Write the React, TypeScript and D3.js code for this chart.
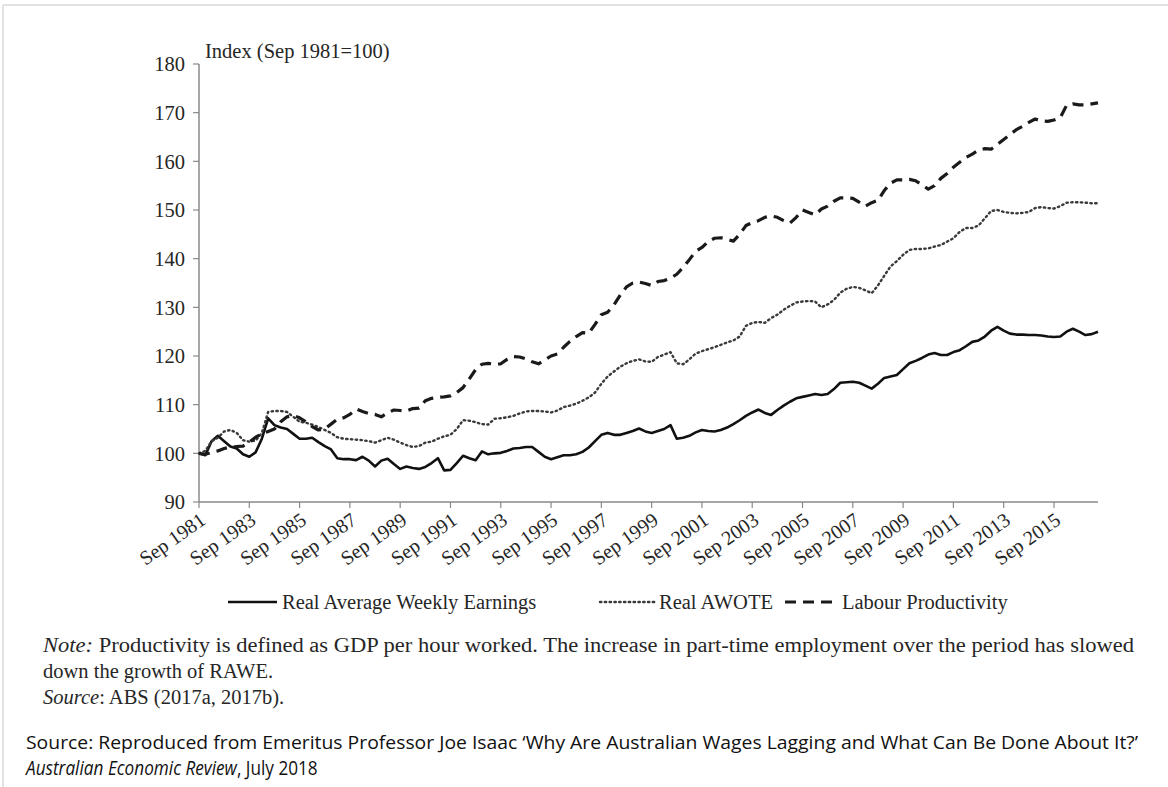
import React from "react";
import * as d3 from "d3";

// Quarterly categories, Sep 1981 .. Jun 2017
const MONTHS = ["Sep", "Dec", "Mar", "Jun"];
const quarters: string[] = d3.range(144).map(
  (i) => `${MONTHS[i % 4]} ${1981 + Math.floor((i + 2) / 4)}`
);

const xTickLabels = [
  "Sep 1981", "Sep 1983", "Sep 1985", "Sep 1987", "Sep 1989", "Sep 1991",
  "Sep 1993", "Sep 1995", "Sep 1997", "Sep 1999", "Sep 2001", "Sep 2003",
  "Sep 2005", "Sep 2007", "Sep 2009", "Sep 2011", "Sep 2013", "Sep 2015",
];
const yTicks = [90, 100, 110, 120, 130, 140, 150, 160, 170, 180];

const realAverageWeeklyEarnings = [
  100, 99.6, 102.5, 103.6,
  102.5, 101.4, 101.0, 99.8,
  99.3, 100.2, 103.0, 107.2,
  105.8, 105.3, 105.0, 104.0,
  103.0, 103.0, 103.2, 102.3,
  101.5, 100.8, 99.0, 98.8,
  98.8, 98.6, 99.3, 98.5,
  97.3, 98.5, 98.9, 97.8,
  96.8, 97.3, 97.0, 96.8,
  97.2, 98.0, 99.0, 96.5,
  96.6, 98.0, 99.5, 99.0,
  98.6, 100.4, 99.8, 100.0,
  100.1, 100.5, 101.0, 101.1,
  101.3, 101.3, 100.3, 99.3,
  98.8, 99.2, 99.6, 99.6,
  99.8, 100.3, 101.2, 102.5,
  103.8, 104.2, 103.8, 103.8,
  104.2, 104.6, 105.1, 104.5,
  104.2, 104.6, 105.0, 105.8,
  103.0, 103.2, 103.6, 104.3,
  104.8, 104.6, 104.5, 104.8,
  105.3, 106.0, 106.8, 107.7,
  108.4, 109.0, 108.3, 107.9,
  108.9, 109.8, 110.6, 111.3,
  111.6, 111.9, 112.2, 112.0,
  112.2, 113.2, 114.5, 114.6,
  114.7, 114.5, 113.9, 113.3,
  114.3, 115.5, 115.8, 116.1,
  117.3, 118.5, 119.0, 119.6,
  120.3, 120.6, 120.2, 120.2,
  120.8, 121.2, 122.0, 122.9,
  123.2, 124.0, 125.2, 126.0,
  125.2, 124.6, 124.4, 124.4,
  124.3, 124.3, 124.2, 124.0,
  123.9, 124.0, 125.0, 125.6,
  125.0, 124.3, 124.5, 125.0,
];

const realAWOTE = [
  100, 100.5, 102.5, 103.2,
  104.5, 104.8, 104.2, 102.7,
  102.4, 102.6, 104.2, 108.5,
  108.7, 108.7, 108.5, 107.5,
  106.5, 106.3, 105.9, 105.4,
  104.8, 104.2, 103.3, 103.0,
  102.9, 102.8, 102.7, 102.5,
  102.2, 102.7, 103.2, 102.8,
  102.2, 101.7, 101.3, 101.5,
  102.2, 102.4, 103.0, 103.5,
  103.8, 105.0, 106.8, 106.7,
  106.4, 106.0, 105.9, 107.1,
  107.2, 107.4, 107.7, 108.2,
  108.6, 108.7, 108.7, 108.6,
  108.4, 108.8, 109.5, 109.8,
  110.2, 110.8, 111.5, 112.5,
  114.3, 115.8, 116.8, 117.8,
  118.5, 119.0, 119.3, 118.9,
  118.8, 119.8, 120.3, 120.8,
  118.5, 118.3, 119.3, 120.5,
  121.0, 121.4, 121.8, 122.3,
  122.8, 123.2, 124.0, 126.2,
  126.8, 127.0, 126.8, 127.8,
  128.5, 129.5, 130.3, 131.0,
  131.2, 131.3, 131.2, 130.0,
  130.6, 131.5, 133.0, 133.8,
  134.2, 134.0, 133.5, 132.9,
  134.5, 136.5, 138.4, 139.5,
  140.8, 141.8, 142.0, 142.0,
  142.1, 142.5, 142.8, 143.5,
  144.2, 145.5, 146.3, 146.3,
  146.8, 148.3, 149.8, 150.0,
  149.6, 149.4, 149.3, 149.4,
  149.6, 150.4, 150.6, 150.4,
  150.3, 150.8, 151.5, 151.6,
  151.6, 151.5, 151.4, 151.4,
];

const labourProductivity = [
  100, 99.8, 100.2, 100.5,
  101.0, 101.3, 101.4, 101.5,
  102.3, 103.3, 104.0, 104.5,
  105.0, 106.5, 107.5, 107.8,
  107.3, 106.5, 105.5, 104.8,
  105.0, 106.0, 107.0, 107.3,
  108.0, 109.1, 108.6, 108.2,
  108.0, 107.5, 108.3, 108.9,
  108.8, 108.7, 109.2, 109.3,
  110.8, 111.3, 111.5, 111.6,
  111.8, 112.5, 113.5, 115.3,
  117.2, 118.3, 118.5, 118.3,
  118.4, 119.3, 119.9, 119.8,
  119.4, 118.8, 118.4, 119.2,
  120.0, 120.4, 121.8, 123.0,
  124.0, 124.8, 124.7, 126.5,
  128.5, 129.0, 130.5, 132.5,
  134.2, 135.0, 135.2, 134.9,
  134.5, 135.3, 135.5, 136.0,
  136.8, 138.2, 139.8, 141.5,
  142.3, 143.5, 144.2, 144.3,
  144.0, 143.6, 145.0, 146.8,
  147.4, 147.8, 148.5, 148.8,
  148.5, 147.8, 147.3, 148.5,
  150.0, 149.5, 149.0, 150.2,
  150.8, 151.8, 152.5, 152.5,
  152.4, 151.6, 150.8, 151.5,
  152.0, 154.0, 155.5, 156.2,
  156.2, 156.3, 156.0, 155.2,
  154.3, 155.0, 156.5, 157.5,
  158.8, 159.8, 160.8, 161.5,
  162.3, 162.6, 162.5, 163.5,
  164.5, 165.5, 166.5, 167.2,
  168.0, 168.7, 168.3, 168.2,
  168.5, 169.0, 171.5, 171.8,
  171.6, 171.6, 171.8, 172.0,
];

const seriesNames = ["Real Average Weekly Earnings", "Real AWOTE", "Labour Productivity"];

const W = 1168;
const H = 787;
const M = { left: 199, right: 1098, top: 64, bottom: 502 };
const SERIF = "'Liberation Serif', 'Times New Roman', serif";
const SANS = "'Open Sans', 'Noto Sans', sans-serif";
const TXT = "#262626";

export default function App() {
  const x = d3.scalePoint<string>().domain(quarters).range([M.left, M.right]);
  const y = d3.scaleLinear().domain([90, 180]).range([M.bottom, M.top]);

  const mk = (vals: number[]) =>
    d3
      .line<number>()
      .x((_, i) => x(quarters[i]) as number)
      .y((v) => y(v))(vals) as string;

  const styles = [
    { stroke: "#111", width: 2.6, dash: undefined as string | undefined, cap: "butt" },
    { stroke: "#3a3a3a", width: 2.4, dash: "1.4,3.4", cap: "round" },
    { stroke: "#1a1a1a", width: 3.2, dash: "11,7", cap: "butt" },
  ];
  const data = [realAverageWeeklyEarnings, realAWOTE, labourProductivity];

  const legendItems = [
    { x1: 228, x2: 277, tx: 282 },
    { x1: 600, x2: 655, tx: 659 },
    { x1: 785, x2: 836, tx: 842 },
  ];

  return (
    <svg
      width={W}
      height={H}
      style={{ position: "absolute", left: 0, top: 0, background: "#fff" }}
    >
      <rect x={0} y={0} width={W} height={H} fill="#fff" />
      <line x1={3} x2={W} y1={5} y2={5} stroke="#e2e2e2" strokeWidth={2} />
      <line x1={3} x2={3} y1={5} y2={H} stroke="#e2e2e2" strokeWidth={2} />

      {/* y axis */}
      <line x1={M.left} x2={M.left} y1={M.top} y2={M.bottom} stroke="#8a8a8a" strokeWidth={1.5} />
      {yTicks.map((t) => (
        <g key={t}>
          <line x1={M.left - 6} x2={M.left} y1={y(t)} y2={y(t)} stroke="#8a8a8a" strokeWidth={1.2} />
          <text
            x={M.left - 14}
            y={y(t)}
            dy="0.35em"
            textAnchor="end"
            fontFamily={SERIF}
            fontSize={20.5}
            fill={TXT}
          >
            {t}
          </text>
        </g>
      ))}
      <text x={205} y={58} fontFamily={SERIF} fontSize={20.5} fill={TXT}>
        Index (Sep 1981=100)
      </text>

      {/* x axis */}
      <line x1={M.left} x2={M.right} y1={M.bottom} y2={M.bottom} stroke="#8a8a8a" strokeWidth={1.5} />
      {xTickLabels.map((lab) => {
        const px = x(lab) as number;
        return (
          <g key={lab}>
            <line x1={px} x2={px} y1={M.bottom} y2={M.bottom + 6} stroke="#8a8a8a" strokeWidth={1.2} />
            <text
              transform={`translate(${px + 8},${M.bottom + 21}) rotate(-35)`}
              textAnchor="end"
              fontFamily={SERIF}
              fontSize={20}
              fill={TXT}
            >
              {lab}
            </text>
          </g>
        );
      })}

      {/* series */}
      {data.map((vals, k) => (
        <path
          key={k}
          d={mk(vals)}
          fill="none"
          stroke={styles[k].stroke}
          strokeWidth={styles[k].width}
          strokeDasharray={styles[k].dash}
          strokeLinecap={styles[k].cap as any}
          strokeLinejoin="round"
        />
      ))}

      {/* legend */}
      {legendItems.map((it, k) => (
        <g key={k}>
          <line
            x1={it.x1}
            x2={it.x2}
            y1={602}
            y2={602}
            stroke={styles[k].stroke}
            strokeWidth={styles[k].width}
            strokeDasharray={styles[k].dash}
            strokeLinecap={styles[k].cap as any}
          />
          <text x={it.tx} y={609} fontFamily={SERIF} fontSize={20.5} fill={TXT}>
            {seriesNames[k]}
          </text>
        </g>
      ))}

      {/* notes */}
      <text x={43} y={652} fontFamily={SERIF} fontSize={20.5} fill={TXT} textLength={1091} lengthAdjust="spacingAndGlyphs">
        <tspan fontStyle="italic">Note:</tspan> Productivity is defined as GDP per hour worked. The increase in part-time employment over the period has slowed
      </text>
      <text x={43} y={678} fontFamily={SERIF} fontSize={20.5} fill={TXT}>
        down the growth of RAWE.
      </text>
      <text x={43} y={704} fontFamily={SERIF} fontSize={20.5} fill={TXT}>
        <tspan fontStyle="italic">Source</tspan>: ABS (2017a, 2017b).
      </text>

      <text x={26} y={749} fontFamily={SANS} fontSize={18} fill="#111" textLength={1112} lengthAdjust="spacingAndGlyphs">
        Source: Reproduced from Emeritus Professor Joe Isaac ‘Why Are Australian Wages Lagging and What Can Be Done About It?’
      </text>
      <g transform="translate(26,775) scale(0.86,1)">
        <text x={0} y={0} fontFamily={SANS} fontSize={20} fill="#111">
          <tspan fontStyle="italic">Australian Economic Review</tspan>, July 2018
        </text>
      </g>
    </svg>
  );
}
